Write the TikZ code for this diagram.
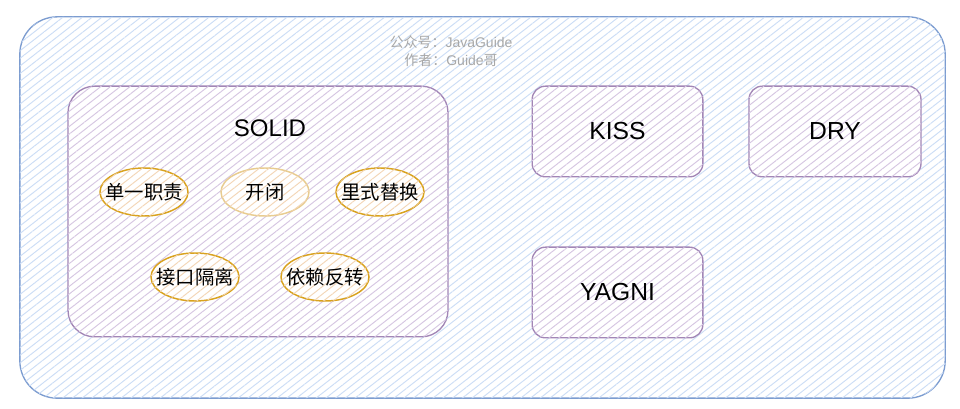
\documentclass[tikz,border=0pt]{standalone}
\usepackage{fontspec}
\setmainfont{Liberation Sans}
\newfontfamily\cjk{Noto Sans CJK SC}
\usepackage{tikz}
\usetikzlibrary{patterns.meta,shapes.geometric}

\definecolor{outerline}{HTML}{7C9CD0}
\definecolor{outerhatch}{HTML}{CCDDF6}
\definecolor{purpleline}{HTML}{A286B6}
\definecolor{purplehatch}{HTML}{D6C6E2}
\definecolor{orangeline}{HTML}{D9A21E}
\definecolor{paleline}{HTML}{E8CC90}
\definecolor{orangehatch}{HTML}{F3D6B6}
\definecolor{markgray}{HTML}{A8A8A8}

\tikzset{
  hatch/.style={pattern={Lines[angle=38,distance=4.5pt,line width=0.7pt]},pattern color=#1},
  principle/.style={draw=purpleline,line width=1pt,rounded corners=10pt,fill=white,
    postaction={hatch=purplehatch},font=\fontsize{18.5}{20}\selectfont},
  idea/.style={ellipse,draw=#1,line width=1.1pt,fill=white,
    postaction={hatch=orangehatch},minimum width=66pt,minimum height=36pt,
    inner xsep=-7.5pt,inner ysep=0pt,
    font=\cjk\fontsize{14.5}{16}\selectfont}
}

\begin{document}
\begin{tikzpicture}[x=0.75pt,y=-0.75pt]
          \useasboundingbox (0,0) rectangle (960,409);
          \fill[white] (0,0) rectangle (960,409);

          % outer frame
          \node[draw=outerline,line width=1pt,rounded corners=28pt,fill=white,
            postaction={hatch=outerhatch},minimum width=694pt,minimum height=286pt]
            (frame) at (482.5,207.5) {};
          \node[text=markgray,align=center,font=\fontsize{10.5}{13.5}\selectfont]
            (mark) at (451,51) {{\cjk 公众号：}JavaGuide\\{\cjk 作者：}Guide{\cjk 哥}};

          % SOLID group
          \node[principle,rounded corners=20pt,minimum width=285pt,minimum height=188pt]
            (solid) at (258,211.5) {};
          \node[font=\fontsize{18}{20}\selectfont] (solidtitle) at (270,128) {SOLID};

          \foreach \name/\x/\y/\col/\txt in {srp/144/192/orangeline/单一职责,
              ocp/265/192/paleline/开闭, lsp/380/192/orangeline/里式替换,
              isp/195/277/orangeline/接口隔离, dip/325/277/orangeline/依赖反转} {
            \node[idea=\col] (\name) at (\x,\y) {\txt};
          }

          % other principles
          \node[principle,minimum width=128pt,minimum height=68pt] (kiss) at (617.5,131.5) {KISS};
          \node[principle,minimum width=129pt,minimum height=68pt] (dry) at (835,131.5) {DRY};
          \node[principle,minimum width=128pt,minimum height=68pt] (yagni) at (617.5,292.5) {YAGNI};
        \end{tikzpicture}
\end{document}
